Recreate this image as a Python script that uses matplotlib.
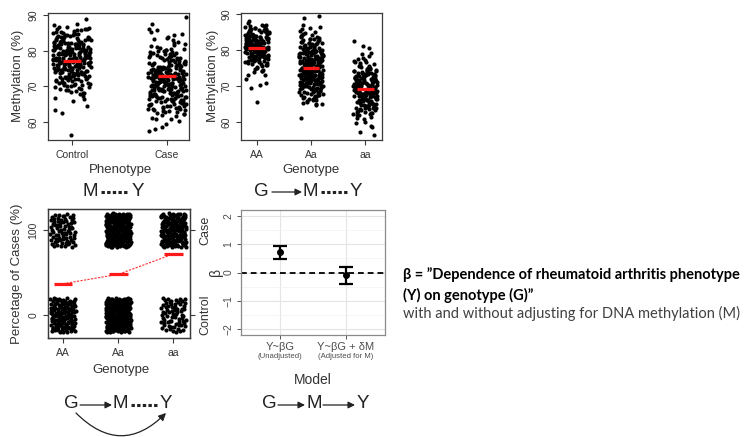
import matplotlib
matplotlib.use("Agg")
import matplotlib.pyplot as plt
import numpy as np
from matplotlib.lines import Line2D
from matplotlib.patches import FancyArrowPatch

# ---------------- data ----------------
phenotypes = ["Control", "Case"]
genotypes = ["AA", "Aa", "aa"]

meth_control = [
    77.3, 81.2, 74.5, 79.8, 70.2, 83.4, 76.1, 72.8, 78.9, 85.1,
    69.4, 80.3, 75.7, 82.6, 73.1, 77.9, 86.2, 71.5, 79.1, 74.0,
    84.3, 76.8, 68.7, 81.9, 78.2, 72.3, 80.7, 75.2, 83.8, 70.9,
    77.0, 79.5, 73.6, 82.1, 76.4, 85.7, 71.2, 78.6, 74.8, 81.4,
    67.9, 80.0, 75.9, 84.7, 72.6, 77.6, 79.9, 69.8, 83.1, 76.2,
    78.4, 73.9, 81.6, 70.5, 86.8, 75.4, 80.9, 74.2, 82.9, 77.8,
    71.8, 79.3, 76.6, 84.0, 73.3, 78.1, 68.3, 81.1, 75.1, 87.6,
    77.4, 72.0, 80.5, 74.7, 82.4, 76.9, 79.6, 70.7, 85.4, 73.8,
    78.8, 66.9, 81.7, 75.6, 83.5, 72.9, 77.2, 80.2, 69.1, 84.9,
    76.3, 79.0, 74.3, 82.2, 71.6, 78.3, 75.0, 86.4, 73.5, 80.8,
    67.2, 77.7, 81.3, 76.0, 83.2, 72.4, 79.7, 74.9, 85.9, 70.0,
    78.0, 75.8, 82.8, 73.0, 80.4, 77.5, 69.6, 84.4, 76.7, 79.2,
    71.0, 81.8, 74.6, 78.7, 83.7, 72.2, 80.1, 75.3, 86.0, 77.1,
    68.9, 79.4, 73.4, 82.5, 76.5, 81.0, 74.1, 84.6, 70.4, 78.5,
    65.8, 75.5, 80.6, 72.7, 83.0, 77.9, 71.3, 79.8, 74.4, 85.3,
    76.2, 82.3, 69.9, 78.2, 73.7, 81.5, 75.9, 87.2, 72.1, 80.0,
    64.6, 77.6, 83.9, 74.0, 79.1, 70.8, 82.0, 76.8, 68.1, 84.2,
    63.5, 78.9, 75.1, 81.2, 73.2, 86.6, 77.3, 71.9, 80.3, 74.7,
    62.5, 89.0, 56.3, 76.0, 79.6, 72.5, 83.6, 75.7, 81.9, 66.4,
    76.7, 80.1, 73.4, 82.7, 78.6, 75.3, 84.1, 71.4, 79.4, 77.0,
    81.5, 74.6, 86.1, 72.7, 78.0, 80.8, 76.4, 83.3, 70.3, 79.0,
    75.6, 82.0, 77.8, 73.7, 85.0, 78.4, 74.9, 81.0, 69.3, 76.9,
    80.4, 72.1, 83.9, 77.4, 79.8, 75.0, 82.5, 71.1, 78.2, 84.5,
    76.1, 73.9, 80.2, 77.6, 81.8, 74.2, 79.2, 68.5, 83.0, 75.8,
    78.8, 72.9, 85.6, 76.6, 80.7, 73.5, 82.3, 77.2, 79.6, 74.4,
]
meth_case = [
    73.1, 68.4, 77.9, 65.2, 80.6, 71.3, 75.8, 62.9, 70.0, 78.7,
    66.8, 74.4, 69.5, 83.2, 72.2, 64.1, 76.5, 71.0, 79.9, 67.6,
    73.9, 61.2, 75.1, 69.0, 81.8, 70.7, 66.0, 77.2, 72.8, 64.8,
    84.5, 68.9, 74.0, 71.7, 63.6, 78.1, 67.1, 73.4, 76.0, 70.3,
    65.7, 80.1, 72.5, 69.8, 75.4, 62.2, 74.7, 68.0, 82.6, 71.5,
    66.5, 77.5, 70.9, 73.7, 64.4, 79.3, 67.9, 72.0, 76.8, 69.3,
    60.8, 74.9, 71.1, 85.3, 65.0, 73.3, 68.6, 78.4, 70.5, 63.9,
    75.6, 72.7, 66.2, 81.0, 69.7, 74.2, 67.3, 77.0, 71.9, 64.6,
    73.6, 58.1, 76.3, 70.1, 79.6, 68.2, 72.4, 65.4, 83.9, 71.4,
    67.5, 75.0, 69.1, 73.0, 62.6, 78.0, 70.6, 74.5, 66.7, 80.8,
    72.1, 63.2, 76.7, 68.8, 71.8, 86.0, 65.9, 74.1, 69.4, 77.7,
    70.4, 61.7, 73.5, 67.0, 79.0, 72.9, 64.3, 75.3, 68.5, 82.1,
    71.2, 66.3, 74.8, 69.9, 76.1, 63.0, 73.8, 67.7, 78.9, 70.8,
    59.4, 75.9, 72.3, 65.6, 80.4, 68.1, 74.3, 71.6, 77.4, 64.9,
    73.2, 69.6, 84.8, 66.6, 72.6, 75.7, 62.0, 70.2, 78.5, 67.4,
    74.6, 71.0, 65.1, 81.5, 69.2, 73.0, 76.9, 63.4, 72.0, 68.7,
    57.6, 79.8, 70.9, 66.1, 74.0, 87.5, 64.0, 71.7, 77.1, 69.0,
    72.8, 60.3, 75.2, 67.8, 82.9, 73.6, 65.3, 70.3, 76.4, 68.3,
    58.7, 89.4, 61.0, 85.9, 63.8, 71.3, 74.2, 66.9, 78.2, 62.4,
    70.6, 73.4, 67.2, 80.0, 64.7, 72.2, 75.5, 69.5, 83.5, 71.9,
    72.4, 69.2, 76.2, 66.4, 74.6, 70.4, 79.2, 67.2, 73.1, 71.2,
    65.6, 75.5, 68.0, 77.8, 72.9, 63.7, 70.9, 74.3, 69.7, 80.3,
    67.7, 73.8, 71.5, 76.6, 64.5, 70.0, 72.6, 68.6, 78.8, 66.0,
    74.9, 71.8, 69.4, 75.0, 62.8, 73.3, 67.0, 77.3, 70.7, 72.1,
    65.9, 81.4, 68.3, 74.1, 71.0, 76.0, 69.0, 73.5, 64.2, 78.3,
    70.2, 66.7, 75.8, 72.3, 68.9, 79.5, 71.6, 63.3, 74.5, 67.4,
]
meth_AA = [
    80.5, 83.1, 78.2, 85.6, 81.7, 76.9, 82.4, 79.3, 84.8, 77.6,
    81.0, 86.3, 79.8, 83.7, 75.5, 80.9, 82.9, 78.7, 85.1, 80.2,
    77.1, 84.2, 81.4, 79.0, 86.8, 82.1, 76.3, 80.6, 83.5, 78.5,
    81.9, 85.4, 79.6, 74.8, 82.7, 80.0, 84.5, 77.9, 81.2, 87.4,
    79.1, 83.3, 76.6, 80.8, 85.9, 78.0, 82.2, 81.5, 74.2, 84.0,
    80.3, 77.4, 83.9, 79.5, 86.1, 81.8, 78.8, 82.5, 75.9, 80.1,
    84.7, 79.9, 77.0, 83.0, 81.1, 85.3, 78.4, 82.8, 80.4, 76.1,
    81.6, 84.3, 79.2, 87.9, 82.0, 77.8, 80.7, 83.6, 78.9, 85.7,
    75.2, 81.3, 79.7, 84.1, 82.3, 76.8, 80.0, 86.5, 78.3, 83.2,
    81.9, 77.3, 85.0, 79.4, 82.6, 80.9, 73.8, 84.6, 78.6, 81.4,
    72.9, 83.8, 79.0, 86.9, 80.2, 76.4, 82.4, 78.1, 85.5, 81.0,
    71.9, 70.3, 69.3, 70.8, 65.6, 73.1, 74.5, 80.6, 83.4, 79.8,
    86.7, 77.7, 82.1, 81.7, 84.9, 78.5, 75.7, 80.3, 83.0, 79.1,
    81.3, 79.4, 83.5, 77.2, 85.2, 80.0, 82.6, 78.3, 84.0, 80.7,
    76.5, 82.0, 79.6, 86.0, 81.1, 78.9, 83.8, 80.4, 75.0, 84.4,
    79.0, 82.9, 77.5, 81.6, 85.8, 80.2, 78.1, 83.2, 81.8, 76.0,
    84.8, 79.8, 82.2, 77.9, 80.8, 86.4, 78.6, 81.4, 83.6, 79.3,
    80.5, 74.0, 82.7, 78.4, 85.4, 81.0, 77.0, 83.0, 80.1, 79.9,
]
meth_Aa = [
    75.2, 71.4, 79.1, 68.3, 82.5, 73.7, 77.0, 66.9, 80.4, 72.1,
    76.5, 69.8, 83.6, 74.3, 78.2, 70.6, 81.1, 67.5, 75.9, 73.0,
    79.7, 65.8, 77.8, 72.6, 84.3, 71.0, 76.1, 69.2, 80.9, 74.8,
    68.7, 78.6, 73.4, 82.0, 70.1, 75.6, 66.4, 79.4, 72.9, 77.3,
    85.1, 71.7, 76.8, 69.5, 81.6, 74.0, 67.2, 78.0, 73.1, 80.2,
    75.4, 70.4, 83.0, 72.3, 77.6, 68.0, 79.9, 74.6, 65.3, 76.3,
    81.9, 71.2, 78.4, 73.8, 86.2, 69.0, 75.0, 72.0, 80.6, 67.8,
    77.1, 74.2, 82.8, 70.8, 76.7, 66.1, 79.2, 73.5, 84.0, 71.5,
    75.7, 69.6, 78.9, 72.7, 81.3, 68.5, 77.4, 74.9, 64.6, 80.0,
    73.2, 76.0, 70.3, 83.3, 71.9, 78.1, 67.0, 75.3, 79.6, 72.4,
    85.7, 69.3, 77.9, 74.4, 81.0, 70.0, 76.4, 73.6, 82.2, 68.9,
    75.8, 71.1, 79.5, 66.6, 77.2, 72.8, 80.7, 74.1, 84.6, 70.7,
    76.9, 69.9, 78.3, 73.3, 65.0, 81.4, 71.8, 75.1, 82.9, 67.4,
    77.5, 72.2, 79.0, 74.7, 86.8, 70.5, 76.2, 68.2, 80.3, 73.9,
    75.5, 71.3, 83.8, 69.1, 78.7, 72.5, 66.0, 77.7, 74.5, 81.8,
    73.0, 79.3, 70.9, 76.6, 67.7, 82.3, 75.0, 71.6, 78.5, 68.6,
    88.8, 89.4, 86.0, 61.0, 64.9, 65.6, 76.9, 74.0, 80.1, 72.0,
    77.0, 70.2, 83.1, 73.7, 79.8, 75.3, 69.4, 81.5, 71.4, 78.8,
    74.3, 66.8, 80.5, 72.9, 76.3, 84.9, 70.6, 77.6, 73.4, 79.1,
    74.6, 71.0, 78.0, 68.8, 76.0, 72.7, 80.8, 70.2, 75.6, 73.2,
    77.3, 69.7, 82.6, 74.0, 71.8, 79.0, 67.3, 76.5, 73.6, 81.2,
    70.9, 75.1, 72.3, 78.6, 68.4, 74.9, 77.8, 71.5, 83.5, 73.0,
    76.8, 70.0, 79.6, 72.9, 75.4, 66.5, 78.3, 74.2, 80.2, 69.2,
    73.9, 77.0, 71.2, 75.9, 82.0, 72.0, 76.2, 68.1, 79.3, 74.5,
    70.5, 78.9, 73.4, 75.0, 84.2, 71.7, 77.5, 69.9, 76.6, 72.5,
]
meth_aa = [
    69.2, 65.4, 73.1, 62.7, 71.6, 67.8, 75.3, 64.0, 70.4, 68.1,
    72.5, 66.3, 74.2, 63.5, 69.9, 67.0, 76.6, 71.0, 65.8, 70.7,
    68.5, 73.8, 61.9, 72.0, 66.9, 69.5, 74.9, 64.6, 71.3, 67.4,
    70.1, 62.4, 73.4, 68.8, 65.1, 72.8, 69.0, 77.1, 63.8, 71.9,
    67.6, 74.5, 66.0, 70.9, 68.3, 60.9, 72.3, 65.6, 75.8, 69.7,
    64.3, 71.5, 67.2, 73.6, 62.1, 70.2, 68.6, 76.1, 66.5, 72.7,
    69.3, 63.2, 74.0, 67.9, 71.1, 65.2, 77.8, 70.6, 64.8, 68.0,
    73.0, 66.7, 69.8, 61.5, 72.1, 67.3, 75.0, 70.0, 63.9, 71.7,
    68.9, 74.7, 65.9, 69.4, 72.9, 62.8, 70.5, 67.7, 76.9, 66.2,
    71.4, 64.5, 73.3, 68.2, 59.0, 70.8, 66.4, 74.3, 69.1, 65.0,
    72.4, 67.1, 78.2, 63.6, 71.8, 68.7, 61.2, 73.7, 66.6, 70.3,
    64.1, 75.5, 69.6, 67.5, 72.2, 62.3, 70.0, 68.4, 74.1, 65.5,
    58.6, 81.0, 82.4, 80.6, 57.2, 56.4, 60.1, 59.8, 79.2, 78.7,
    71.2, 66.1, 73.5, 69.0, 64.7, 72.6, 67.9, 76.3, 63.3, 70.7,
    68.6, 71.9, 65.7, 70.1, 73.2, 67.2, 69.5, 64.4, 72.6, 66.8,
    70.4, 68.0, 74.6, 63.0, 71.1, 67.8, 69.9, 75.6, 65.3, 72.0,
    68.3, 70.7, 62.6, 73.9, 66.3, 69.2, 71.6, 64.9, 67.5, 76.5,
    70.0, 65.9, 72.8, 68.9, 61.8, 71.3, 67.0, 74.0, 69.7, 66.0,
    73.4, 63.9, 70.5, 68.5, 72.2, 65.0, 69.0, 77.4, 67.6, 71.0,
]
meth_mean_phenotype = [77.2, 72.9]
meth_mean_genotype = [80.4, 75.0, 69.0]

# phenotype counts per genotype (binary panel)
n_cases = [75, 215, 180]
n_controls = [128, 233, 70]

# model estimates
models = ["Y~\u03b2G", "Y~\u03b2G + \u03b4M"]
model_notes = ["(Unadjusted)", "(Adjusted for M)"]
beta_est = [0.71, -0.08]
beta_lo = [0.49, -0.39]
beta_hi = [0.93, 0.21]

# ---------------- style ----------------
plt.rcParams['font.family'] = ['Liberation Sans', 'DejaVu Sans']
W, H = 752, 437
fig = plt.figure(figsize=(W / 100, H / 100), dpi=100)
TXT = '#333333'
DOT = 9


def axes_px(l, t, r, b):
    return fig.add_axes([l / W, 1 - b / H, (r - l) / W, (b - t) / H])


def fxy(x, y):
    return (x / W, 1 - y / H)


def r_style(ax):
    for s in ax.spines.values():
        s.set_color('#3a3a3a')
        s.set_linewidth(0.9)
    ax.tick_params(direction='out', length=3.6, width=0.8, color='#3a3a3a',
                   labelsize=7.5, labelcolor=TXT, pad=3.5)
    for lab in ax.get_yticklabels():
        lab.set_rotation(90)
        lab.set_va('center')


def golden_jitter(n, half, phase):
    i = np.arange(n)
    return ((i * 0.6180339887 + phase) % 1.0 - 0.5) * 2 * half


def halton(n, base, start):
    out = []
    for k in range(start, start + n):
        f, r, i = 1.0, 0.0, k
        while i > 0:
            f /= base
            r += f * (i % base)
            i //= base
        out.append(r)
    return np.array(out)


# ---------------- panel 1: methylation vs phenotype ----------------
ax1 = axes_px(48, 13, 189, 140)
groups1 = [meth_control, meth_case]
for k, vals in enumerate(groups1):
    x = k + 1 + golden_jitter(len(vals), 0.2, 0.13 * k)
    ax1.scatter(x, vals, s=DOT, c='black', linewidths=0, zorder=2)
    ax1.plot([k + 1 - 0.095, k + 1 + 0.095], [meth_mean_phenotype[k]] * 2,
             color='#ff1a1a', lw=2.3, solid_capstyle='butt', zorder=3)
ax1.set_xlim(0.75, 2.23)
ax1.set_ylim(55, 90.6)
ax1.set_xticks([1, 2])
ax1.set_xticklabels(phenotypes)
ax1.set_yticks([60, 70, 80, 90])
r_style(ax1)
fig.text(*fxy(120, 170), "Phenotype", ha='center', va='center', fontsize=9.5, color=TXT)
fig.text(*fxy(18, 76), "Methylation (%)", ha='center', va='center', rotation=90,
         fontsize=9.5, color=TXT)

# ---------------- panel 2: methylation vs genotype ----------------
ax2 = axes_px(241, 13, 382, 140)
groups2 = [meth_AA, meth_Aa, meth_aa]
for k, vals in enumerate(groups2):
    x = k + 1 + golden_jitter(len(vals), 0.22, 0.29 * k + 0.05)
    ax2.scatter(x, vals, s=DOT, c='black', linewidths=0, zorder=2)
    ax2.plot([k + 1 - 0.155, k + 1 + 0.155], [meth_mean_genotype[k]] * 2,
             color='#ff1a1a', lw=2.3, solid_capstyle='butt', zorder=3)
ax2.set_xlim(0.71, 3.31)
ax2.set_ylim(55, 90.2)
ax2.set_xticks([1, 2, 3])
ax2.set_xticklabels(genotypes)
ax2.set_yticks([60, 70, 80, 90])
r_style(ax2)
fig.text(*fxy(311, 170), "Genotype", ha='center', va='center', fontsize=9.5, color=TXT)
fig.text(*fxy(213, 76), "Methylation (%)", ha='center', va='center', rotation=90,
         fontsize=9.5, color=TXT)

# ---------------- panel 3: binary phenotype vs genotype ----------------
ax3 = axes_px(48, 209, 190, 338)
pct_cases = []
for k in range(3):
    nc, nn = n_cases[k], n_controls[k]
    hx = halton(nc, 2, 1 + 97 * k)
    hy = halton(nc, 3, 1 + 97 * k)
    ax3.scatter(k + 1 + (hx - 0.5) * 0.46, 100 + (hy - 0.5) * 40,
                s=DOT, c='black', linewidths=0, zorder=2)
    hx = halton(nn, 2, 400 + 131 * k)
    hy = halton(nn, 3, 400 + 131 * k)
    ax3.scatter(k + 1 + (hx - 0.5) * 0.46, 0 + (hy - 0.5) * 40,
                s=DOT, c='black', linewidths=0, zorder=2)
    pct_cases.append(100.0 * nc / (nc + nn))
xs = np.arange(1, 4)
ax3.plot(xs, pct_cases, color='#ff3030', lw=0.8, ls=(0, (2, 1.2)), zorder=3)
for k in range(3):
    ax3.plot([xs[k] - 0.17, xs[k] + 0.17], [pct_cases[k]] * 2, color='#ff1a1a',
             lw=2.3, solid_capstyle='butt', zorder=4)
ax3.set_xlim(0.73, 3.3)
ax3.set_ylim(-27, 125)
ax3.set_xticks([1, 2, 3])
ax3.set_xticklabels(genotypes)
ax3.set_yticks([0, 100])
r_style(ax3)
ax3r = ax3.twinx()
ax3r.set_ylim(-27, 125)
ax3r.set_yticks([0, 100])
ax3r.set_yticklabels(["Control", "Case"])
r_style(ax3r)
ax3r.tick_params(labelsize=9, pad=3)
fig.text(*fxy(121, 370), "Genotype", ha='center', va='center', fontsize=9.5, color=TXT)
fig.text(*fxy(17, 274), "Percetage of Cases (%)", ha='center', va='center', rotation=90,
         fontsize=9.5, color=TXT)

# ---------------- panel 4: model estimates ----------------
ax4 = axes_px(241, 210, 385, 335)
mx = np.arange(1, len(models) + 1)
ax4.set_axisbelow(True)
ax4.grid(True, which='major', color='#e4e4e4', lw=0.8)
ax4.set_yticks([-1.5, -0.5, 0.5, 1.5], minor=True)
ax4.grid(True, which='minor', axis='y', color='#f2f2f2', lw=0.5)
ax4.axhline(0, color='black', lw=1.3, ls=(0, (3.2, 2.2)), zorder=2)
est = np.array(beta_est)
yerr = [est - np.array(beta_lo), np.array(beta_hi) - est]
ax4.errorbar(mx, est, yerr=yerr, fmt='o', color='black', ms=4, elinewidth=1.6,
             capsize=5, capthick=1.6, zorder=3)
ax4.set_xlim(0.4, 2.6)
ax4.set_ylim(-2.2, 2.2)
ax4.set_xticks(mx)
ax4.set_xticklabels([])
ax4.set_yticks([-2, -1, 0, 1, 2])
for s in ax4.spines.values():
    s.set_color('#8a8a8a')
    s.set_linewidth(0.9)
ax4.tick_params(direction='out', length=3, width=0.7, color='#555555',
                labelsize=7.5, labelcolor='#4d4d4d', pad=2.5)
ax4.tick_params(which='minor', length=0)
for lab in ax4.get_yticklabels():
    lab.set_rotation(90)
    lab.set_va('center')
for k, (m, note) in enumerate(zip(models, model_notes)):
    xd = ax4.transData.transform((mx[k], 0))[0]
    fig.text(xd / W, 1 - 347 / H, m, ha='center', va='center', fontsize=8, color='#4d4d4d')
    fig.text(xd / W, 1 - 356.5 / H, note, ha='center', va='center', fontsize=5.6,
             color='#4d4d4d')
fig.text(*fxy(313, 380), "Model", ha='center', va='center', fontsize=10, color=TXT)
fig.text(*fxy(216, 272), "\u03b2", ha='center', va='center', rotation=90, fontsize=10,
         color=TXT)

# ---------------- causal diagrams ----------------
DFS = 13.5
DC = '#222222'


def letter(x, y, s):
    fig.text(*fxy(x, y), s, ha='center', va='center', fontsize=DFS, color=DC)


def arrow(x0, x1, y):
    fig.add_artist(FancyArrowPatch(fxy(x0, y), fxy(x1, y), transform=fig.transFigure,
                                   arrowstyle='-|>', mutation_scale=10, lw=0.9,
                                   color=DC, shrinkA=0, shrinkB=0))


def dashes(x0, x1, y):
    fig.add_artist(Line2D([x0 / W, x1 / W], [1 - y / H] * 2, transform=fig.transFigure,
                          color=DC, lw=2.2, ls=(0, (1.1, 0.75))))


# M --- Y
letter(90, 191, "M"); dashes(101, 129, 192); letter(138, 191, "Y")
# G -> M --- Y
letter(261, 191, "G"); arrow(272, 302, 192); letter(310, 191, "M")
dashes(321, 348, 192); letter(356, 191, "Y")
# G -> M --- Y with direct arc
letter(71, 404, "G"); arrow(80, 112, 405); letter(120, 404, "M")
dashes(131, 158, 405); letter(166, 404, "Y")
fig.add_artist(FancyArrowPatch(fxy(76, 413), fxy(166, 413), transform=fig.transFigure,
                               connectionstyle='arc3,rad=0.5', arrowstyle='-|>',
                               mutation_scale=11, lw=0.9, color=DC, shrinkA=0, shrinkB=0))
# G -> M -> Y
letter(269, 404, "G"); arrow(278, 305, 405); letter(314, 404, "M")
arrow(323, 355, 405); letter(363, 404, "Y")

# ---------------- explanatory text ----------------
TF = ['Lato', 'Open Sans', 'DejaVu Sans']
fig.text(403 / W, 1 - 275 / H, "\u03b2 = \u201dDependence of rheumatoid arthritis phenotype",
         ha='left', va='center', fontsize=10.5, fontweight='bold', family=TF, color='black')
fig.text(403 / W, 1 - 295 / H, "(Y) on genotype (G)\u201d",
         ha='left', va='center', fontsize=10.5, fontweight='bold', family=TF, color='black')
fig.text(403 / W, 1 - 313 / H, "with and without adjusting for DNA methylation (M)",
         ha='left', va='center', fontsize=10.5, family=TF, color='#404040')

fig.savefig("out.png", dpi=100)
